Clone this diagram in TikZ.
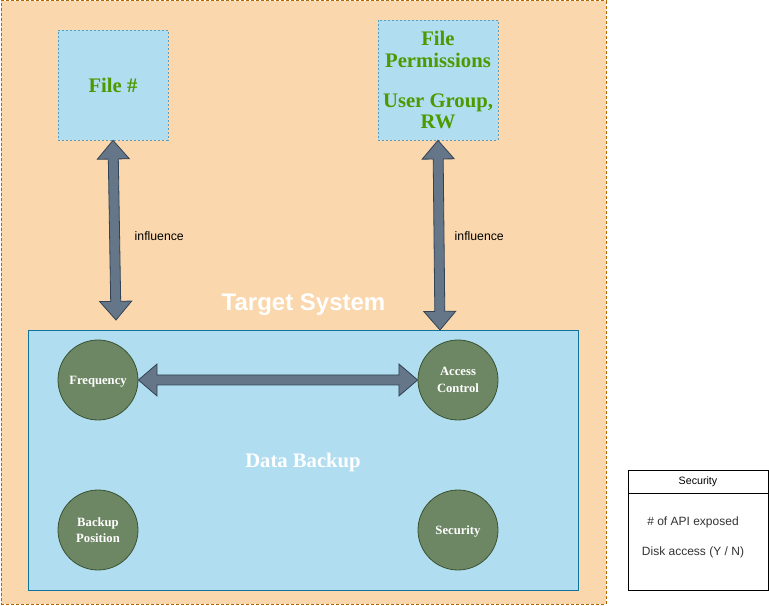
\documentclass[tikz,border=0pt]{standalone}
\usepackage{fontspec}
\setmainfont{Liberation Serif}
\setsansfont{Liberation Sans}
\usetikzlibrary{calc,positioning}
\definecolor{orangefill}{HTML}{FAD7AC}
\definecolor{orangeline}{HTML}{B46504}
\definecolor{bluefill}{HTML}{B1DDF0}
\definecolor{blueline}{HTML}{10739E}
\definecolor{leafgreen}{HTML}{4D9900}
\definecolor{olivefill}{HTML}{6D8764}
\definecolor{oliveline}{HTML}{3A5431}
\definecolor{slatefill}{HTML}{647687}
\definecolor{slateline}{HTML}{314354}
\tikzset{
    sysbox/.style={rectangle, draw=orangeline, fill=orangefill, line width=0.75pt,
      dash pattern=on 2.25pt off 1.5pt, inner sep=0, text=white, text depth=0pt,
      font=\sffamily\bfseries\fontsize{18}{21}\selectfont},
    filebox/.style={rectangle, draw=blueline!70, fill=bluefill, line width=0.5pt,
      dash pattern=on 1.5pt off 1.5pt, inner sep=0, align=center, text=leafgreen,
      font=\bfseries\fontsize{15.5}{16}\selectfont},
    backupbox/.style={rectangle, draw=blueline, fill=bluefill, line width=0.6pt,
      inner sep=0, text=white, text depth=0pt, font=\bfseries\fontsize{15.5}{18}\selectfont},
    factor/.style={circle, draw=oliveline, fill=olivefill, line width=0.6pt,
      minimum size=60pt, inner sep=0, align=center, text=white, text depth=0pt,
      font=\bfseries\fontsize{9.5}{12.5}\selectfont},
    blockarr/.style={draw=slateline, fill=slatefill, line width=0.6pt, line join=miter},
    note/.style={font=\sffamily\fontsize{9.2}{10}\selectfont, anchor=west},
    legendbox/.style={rectangle, draw=black, fill=white, line width=0.6pt, inner sep=0,
      minimum width=105pt},
    legenditem/.style={font=\sffamily\fontsize{9}{10}\selectfont, text=black!80},
  }
% double headed block arrow from #1 to #2
\newcommand{\blockarrow}[2]{%
  \draw[blockarr] (#1)
    -- ($(#1)!14pt!(#2)!12pt!90:(#2)$)
    -- ($(#1)!14pt!(#2)!3.75pt!90:(#2)$)
    -- ($(#2)!14pt!(#1)!3.75pt!-90:(#1)$)
    -- ($(#2)!14pt!(#1)!12pt!-90:(#1)$)
    -- (#2)
    -- ($(#2)!14pt!(#1)!12pt!90:(#1)$)
    -- ($(#2)!14pt!(#1)!3.75pt!90:(#1)$)
    -- ($(#1)!14pt!(#2)!3.75pt!-90:(#2)$)
    -- ($(#1)!14pt!(#2)!12pt!-90:(#2)$)
    -- cycle;}

\begin{document}
\begin{tikzpicture}[x=0.75pt, y=-0.75pt]
  \useasboundingbox (0,0) rectangle (769,606);

  \node (target) [sysbox, minimum width=453.75pt, minimum height=452.25pt] at (303.5,302.5) {Target System};

  \node (fileno) [filebox, minimum width=82.5pt, minimum height=82.5pt] at (113,85) {File \#};
  \node (perm) [filebox, minimum width=90pt, minimum height=90pt] at (438,80)
        {File\\Permissions\\[14pt]User Group,\\RW};

  \node (backup) [backupbox, minimum width=412.5pt, minimum height=195pt] at (303,460) {Data Backup};

  \node (freq) [factor] at (98,380) {Frequency};
  \node (access) [factor] at (458,380) {Access\\Control};
  \node (position) [factor] at (98,530) {Backup\\Position};
  \node (security) [factor] at (458,530) {Security};

  \coordinate (lefttip) at (116,320);
  \coordinate (righttip) at (440,330);
  \blockarrow{fileno.south}{lefttip}
  \blockarrow{perm.south}{righttip}
  \blockarrow{freq.east}{access.west}

  \node (inflA) [note] at (130,236) {influence};
  \node (inflB) [note] at (450,236) {influence};

  % legend
  \node (legendhead) [legendbox, minimum height=17.25pt, font=\sffamily\fontsize{8}{10}\selectfont] at (698,481.5) {Security};
  \node (legendbody) [legendbox, minimum height=72.75pt, below=0pt of legendhead] {};
  \node (apiitem) [legenditem] at (693,522) {\# of API exposed};
  \node (diskitem) [legenditem] at (693,552) {Disk access (Y / N)};
\end{tikzpicture}
\end{document}
